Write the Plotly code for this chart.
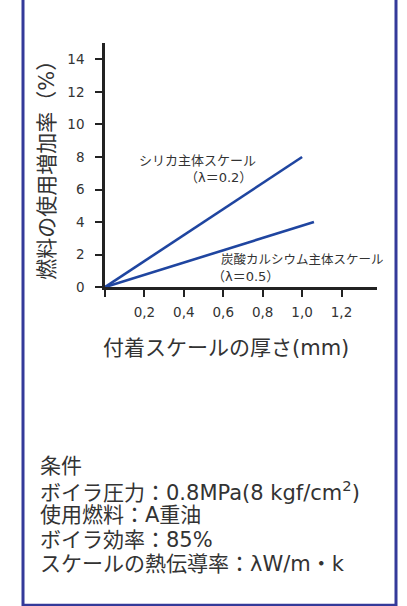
import plotly.graph_objects as go

# Data
silica_x = [0.0, 1.0]
silica_y = [0.0, 8.0]
calcium_x = [0.0, 1.06]
calcium_y = [0.0, 4.0]

x_tickvals = [0.2, 0.4, 0.6, 0.8, 1.0, 1.2]
x_ticktext = ["0,2", "0,4", "0,6", "0,8", "1,0", "1,2"]
y_tickvals = [0, 2, 4, 6, 8, 10, 12, 14]
y_ticktext = ["0", "2", "4", "6", "8", "10", "12", "14"]

silica_label = ["シリカ主体スケール", "（λ＝0.2）"]
calcium_label = ["炭酸カルシウム主体スケール", "（λ＝0.5）"]
x_title = "付着スケールの厚さ(mm)"
y_title = "燃料の使用増加率（%）"
conditions = [
    "条件",
    "ボイラ圧力：0.8MPa(8 kgf/cm<sup>2</sup>)",
    "使用燃料：A重油",
    "ボイラ効率：85%",
    "スケールの熱伝導率：λW/m・k",
]

FONT = "DejaVu Sans, Noto Sans CJK JP"
LINE_COLOR = "#1f45a0"
TEXT_COLOR = "#333333"
W, H = 407, 606
VS = 0.983  # vertical photo scale observed


def px_x(p):
    return p / W


def px_y(p):
    return 1 - (p / VS) / H


fig = go.Figure()
fig.add_trace(go.Scatter(x=silica_x, y=silica_y, mode="lines",
                         line=dict(color=LINE_COLOR, width=2.6), showlegend=False))
fig.add_trace(go.Scatter(x=calcium_x, y=calcium_y, mode="lines",
                         line=dict(color=LINE_COLOR, width=2.6), showlegend=False))

annotations = [
    dict(x=0.47, y=7.78, xref="x", yref="y", text=silica_label[0], size=13),
    dict(x=0.576, y=6.73, xref="x", yref="y", text=silica_label[1], size=13),
    dict(x=1.004, y=1.67, xref="x", yref="y", text=calcium_label[0], size=12.5),
    dict(x=0.715, y=0.68, xref="x", yref="y", text=calcium_label[1], size=13),
]
for a in annotations:
    sz = a.pop("size")
    a.update(showarrow=False, font=dict(family=FONT, size=sz, color=TEXT_COLOR),
             xanchor="center", yanchor="middle")

annotations.append(dict(x=px_x(47.5), y=px_y(164.5), xref="paper", yref="paper",
                        text=y_title, textangle=-90, showarrow=False,
                        font=dict(family=FONT, size=21, color=TEXT_COLOR),
                        xanchor="center", yanchor="middle"))
annotations.append(dict(x=px_x(226), y=px_y(347), xref="paper", yref="paper",
                        text=x_title, showarrow=False,
                        font=dict(family=FONT, size=21, color=TEXT_COLOR),
                        xanchor="center", yanchor="middle"))
cond_y = [464, 489, 513, 538, 562]
for t, yy in zip(conditions, cond_y):
    annotations.append(dict(x=px_x(38), y=px_y(yy), xref="paper", yref="paper",
                            text=t, showarrow=False,
                            font=dict(family=FONT, size=21, color=TEXT_COLOR),
                            xanchor="left", yanchor="middle"))

shapes = [dict(type="rect", xref="paper", yref="paper",
               x0=px_x(23), x1=px_x(396), y0=px_y(603), y1=1.03,
               line=dict(color="#343a9a", width=3), fillcolor="rgba(0,0,0,0)")]

fig.update_layout(
    width=W, height=H,
    margin=dict(l=0, r=0, t=0, b=0),
    paper_bgcolor="white", plot_bgcolor="white",
    font=dict(family=FONT, color=TEXT_COLOR),
    annotations=annotations,
    shapes=shapes,
    xaxis=dict(domain=[px_x(105), px_x(377)], range=[0, 1.38],
               tickvals=x_tickvals, ticktext=x_ticktext,
               ticks="outside", ticklen=7, tickwidth=2, tickcolor="#222",
               ticklabelstandoff=4,
               minor=dict(tickvals=[0.0], ticks="outside", ticklen=7,
                          tickwidth=2, tickcolor="#222", showgrid=False),
               showline=True, linecolor="#222", linewidth=2.5,
               showgrid=False, zeroline=False,
               tickfont=dict(family=FONT, size=13.5, color=TEXT_COLOR)),
    yaxis=dict(domain=[px_y(286), px_y(43)], range=[0, 15],
               tickvals=y_tickvals, ticktext=y_ticktext,
               ticks="outside", ticklen=7, tickwidth=2, tickcolor="#222",
               ticklabelstandoff=8,
               showline=True, linecolor="#222", linewidth=2.5,
               showgrid=False, zeroline=False,
               tickfont=dict(family=FONT, size=13.5, color=TEXT_COLOR)),
)

js = ("document.body.style.margin='0';"
      "document.querySelectorAll('.main-svg').forEach(function(s){s.style.overflow='visible';});")
fig.write_html("out.html", config={"displayModeBar": False}, post_script=js)
